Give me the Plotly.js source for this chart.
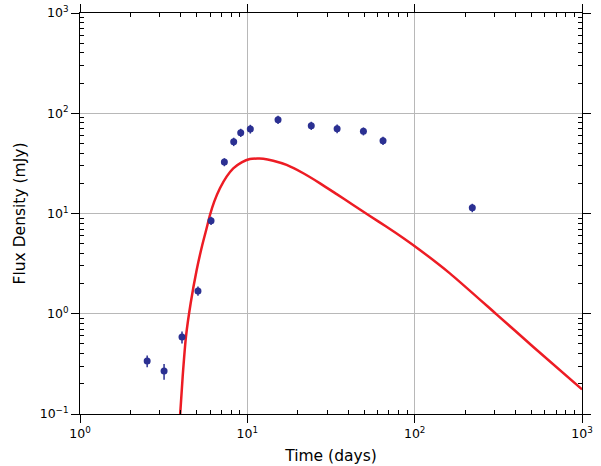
<!DOCTYPE html>
<html>
<head>
<meta charset="utf-8">
<script src="https://cdn.plot.ly/plotly-3.0.1.min.js"></script>
<style>html,body{margin:0;padding:0;background:#fff;}#chart{width:601px;height:466px;}</style>
</head>
<body>
<div id="chart"></div>
<script>
// Observed flux densities
var obsTime = [2.52, 3.18, 4.07, 5.07, 6.07, 7.29, 8.29, 9.13, 10.42, 15.26, 24.1, 34.4, 49.4, 64.7, 221];
var obsFlux = [0.338, 0.268, 0.586, 1.69, 8.48, 32.6, 52.0, 64.0, 69.7, 86.3, 75.2, 70.2, 66.1, 53.3, 11.4];
var obsErr  = [0.045, 0.048, 0.08, 0.18, 0.8, 3.0, 5.0, 6.0, 7.0, 8.0, 7.0, 7.0, 6.0, 5.0, 1.1];

// Model curve
var modelTime = [3.96, 4.107, 4.298, 4.585, 4.98, 5.38, 5.71, 5.98, 6.34, 6.86, 7.52, 8.24, 9.25, 10.36, 11.5, 12.45, 14.28, 17.17, 21.6, 27.2, 34.2, 42.9, 54.0, 67.9, 85.4, 107.4, 162.3, 308.5, 510, 1000];
var modelFlux = [0.094, 0.2355, 0.590, 1.271, 2.73, 4.85, 7.12, 9.66, 13.12, 17.84, 23.3, 28.2, 32.4, 34.96, 35.3, 35.2, 33.6, 30.5, 25.2, 20.0, 15.6, 12.16, 9.44, 7.38, 5.70, 4.33, 2.53, 0.987, 0.469, 0.176];

// Tick labels
var xTickVals = [1, 10, 100, 1000];
var xTickText = ['10<sup>0</sup>', '10<sup>1</sup>', '10<sup>2</sup>', '10<sup>3</sup>'];
var yTickVals = [0.1, 1, 10, 100, 1000];
var yTickText = ['10<sup>\u22121</sup>', '10<sup>0</sup>', '10<sup>1</sup>', '10<sup>2</sup>', '10<sup>3</sup>'];

function minorTicks(lo, hi) {
  var out = [];
  for (var e = lo; e < hi; e++) {
    for (var m = 2; m <= 9; m++) out.push(m * Math.pow(10, e));
  }
  return out;
}

var traces = [
  {
    x: modelTime, y: modelFlux, type: 'scatter', mode: 'lines',
    line: {color: 'rgb(237,28,36)', width: 2.5, shape: 'spline', smoothing: 0.6},
    hoverinfo: 'skip', showlegend: false
  },
  {
    x: obsTime, y: obsFlux, type: 'scatter', mode: 'markers',
    marker: {color: '#2b3092', size: 7},
    error_y: {type: 'data', array: obsErr, visible: true, color: '#2b3092', thickness: 1.5, width: 0},
    showlegend: false
  }
];

var axisCommon = {
  type: 'log',
  showline: true, linecolor: '#000', linewidth: 1,
  mirror: 'allticks',
  ticks: 'outside', ticklen: 8, tickwidth: 1, tickcolor: '#000',
  showgrid: true, gridcolor: '#b8b8b8', gridwidth: 1,
  zeroline: false,
  tickmode: 'array',
  tickfont: {family: 'DejaVu Sans', size: 12.5, color: '#000'}
};

var layout = {
  width: 601, height: 466,
  margin: {l: 80, r: 19, t: 13, b: 52},
  paper_bgcolor: '#fff', plot_bgcolor: '#fff',
  font: {family: 'DejaVu Sans', color: '#000'},
  xaxis: Object.assign({}, axisCommon, {
    range: [0, 3],
    tickvals: xTickVals, ticktext: xTickText,
    minor: {tickmode: 'array', tickvals: minorTicks(0, 3), ticks: 'inside', ticklen: 4, tickcolor: '#000', showgrid: false},
    title: {text: 'Time (days)', font: {family: 'DejaVu Sans', size: 15.5, color: '#000'}, standoff: 10}
  }),
  yaxis: Object.assign({}, axisCommon, {
    range: [-1, 3],
    tickvals: yTickVals, ticktext: yTickText,
    minor: {tickmode: 'array', tickvals: minorTicks(-1, 3), ticks: 'inside', ticklen: 4, tickcolor: '#000', showgrid: false},
    title: {text: 'Flux Density (mJy)', font: {family: 'DejaVu Sans', size: 15.5, color: '#000'}, standoff: 10}
  })
};

Plotly.newPlot('chart', traces, layout, {displayModeBar: false, staticPlot: true});
</script>
</body>
</html>
